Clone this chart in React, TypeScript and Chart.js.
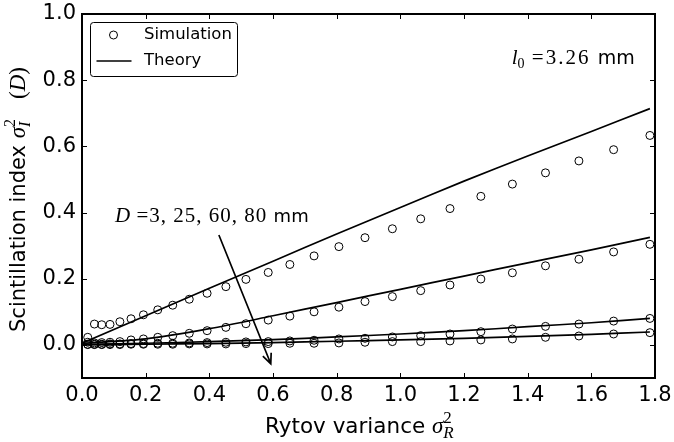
import React, { useEffect, useRef } from 'react';
import { Chart, registerables } from 'chart.js';
Chart.register(...registerables);

// Rytov variance (x) of the simulation points
const rytov = [0.018, 0.039, 0.062, 0.088, 0.119, 0.154, 0.193, 0.238, 0.285, 0.337, 0.393, 0.452, 0.515, 0.585, 0.653, 0.729, 0.807, 0.889, 0.975, 1.064, 1.156, 1.253, 1.352, 1.456, 1.561, 1.670, 1.784];
// Simulation, D = 3, 25, 60, 80 mm
const simD3 = [0.023, 0.063, 0.061, 0.062, 0.070, 0.079, 0.091, 0.106, 0.120, 0.138, 0.156, 0.176, 0.198, 0.219, 0.243, 0.269, 0.297, 0.324, 0.351, 0.381, 0.412, 0.449, 0.486, 0.520, 0.556, 0.590, 0.633];
const simD25 = [0.008, 0.006, 0.007, 0.008, 0.010, 0.015, 0.018, 0.023, 0.028, 0.035, 0.043, 0.053, 0.064, 0.075, 0.087, 0.100, 0.114, 0.131, 0.146, 0.164, 0.181, 0.199, 0.218, 0.239, 0.259, 0.281, 0.304];
const simD60 = [0.002, 0.002, 0.002, 0.003, 0.003, 0.004, 0.004, 0.005, 0.005, 0.006, 0.007, 0.008, 0.009, 0.010, 0.012, 0.014, 0.018, 0.020, 0.024, 0.028, 0.033, 0.040, 0.048, 0.056, 0.063, 0.072, 0.080];
const simD80 = [0.001, 0.001, 0.001, 0.001, 0.001, 0.002, 0.002, 0.002, 0.002, 0.003, 0.003, 0.003, 0.004, 0.004, 0.005, 0.005, 0.006, 0.008, 0.010, 0.010, 0.012, 0.015, 0.018, 0.023, 0.027, 0.033, 0.037];
// Theory curves
const theoryX = [0, 0.2, 0.4, 0.6, 0.8, 1.0, 1.2, 1.4, 1.6, 1.784];
const theoryD3 = [0.005, 0.088, 0.171, 0.253, 0.335, 0.415, 0.495, 0.571, 0.645, 0.714];
const theoryD25 = [0.005, 0.018, 0.049, 0.088, 0.128, 0.168, 0.208, 0.248, 0.287, 0.325];
const theoryD60 = [0.002, 0.005, 0.010, 0.016, 0.024, 0.033, 0.043, 0.055, 0.067, 0.080];
const theoryD80 = [0.0, 0.002, 0.004, 0.007, 0.011, 0.015, 0.020, 0.026, 0.032, 0.039];

const xTicks = [0, 0.2, 0.4, 0.6, 0.8, 1.0, 1.2, 1.4, 1.6, 1.8];
const yTicks = [0, 0.2, 0.4, 0.6, 0.8, 1.0];

// annotation anchors (data coordinates)
const arrowFrom = { x: 0.43, y: 0.332 };
const arrowTo = { x: 0.593, y: -0.057 };
const dLabelPos = { x: 0.104, y: 0.372 };
const l0LabelPos = { x: 1.35, y: 0.85 };

const SANS = '"DejaVu Sans", sans-serif';
const SERIF = '"Liberation Serif", serif';

type Run = { t: string; f: string; dy?: number; overlay?: boolean; ls?: number; w?: number };

function layoutRuns(ctx: CanvasRenderingContext2D, runs: Run[]) {
  let x = 0;
  let prevStart = 0;
  let prevW = 0;
  const items: (Run & { x: number })[] = [];
  for (const r of runs) {
    ctx.font = r.f;
    (ctx as any).letterSpacing = `${r.ls || 0}px`;
    const w = r.w !== undefined ? r.w : ctx.measureText(r.t).width;
    if (r.overlay) {
      items.push({ ...r, x: prevStart });
      prevW = Math.max(prevW, w);
      x = prevStart + prevW;
    } else {
      items.push({ ...r, x });
      prevStart = x;
      prevW = w;
      x += w;
    }
  }
  (ctx as any).letterSpacing = '0px';
  return { items, width: x };
}

function drawRuns(ctx: CanvasRenderingContext2D, runs: Run[], x: number, y: number, align: 'left' | 'center', rotate = false) {
  const { items, width } = layoutRuns(ctx, runs);
  ctx.save();
  ctx.translate(x, y);
  if (rotate) ctx.rotate(-Math.PI / 2);
  const off = align === 'center' ? -width / 2 : 0;
  ctx.fillStyle = '#000';
  ctx.textBaseline = 'alphabetic';
  ctx.textAlign = 'left';
  for (const it of items) {
    ctx.font = it.f;
    (ctx as any).letterSpacing = `${it.ls || 0}px`;
    ctx.fillText(it.t, off + it.x, it.dy || 0);
  }
  (ctx as any).letterSpacing = '0px';
  ctx.restore();
}

const decorPlugin = {
  id: 'decor',
  beforeDraw(chart: any) {
    const ctx = chart.ctx;
    ctx.save();
    ctx.fillStyle = '#fff';
    ctx.fillRect(0, 0, chart.width, chart.height);
    ctx.restore();
  },
  beforeDatasetsDraw(chart: any) {
    const { ctx, chartArea: a, scales } = chart;
    ctx.save();
    ctx.strokeStyle = '#000';
    ctx.lineWidth = 1;
    const tl = 5;
    ctx.beginPath();
    for (const v of xTicks) {
      const px = Math.round(scales.x.getPixelForValue(v)) + 0.5;
      ctx.moveTo(px, a.bottom);
      ctx.lineTo(px, a.bottom - tl);
      ctx.moveTo(px, a.top);
      ctx.lineTo(px, a.top + tl);
    }
    for (const v of yTicks) {
      const py = Math.round(scales.y.getPixelForValue(v)) + 0.5;
      ctx.moveTo(a.left, py);
      ctx.lineTo(a.left + tl, py);
      ctx.moveTo(a.right, py);
      ctx.lineTo(a.right - tl, py);
    }
    ctx.stroke();
    ctx.lineWidth = 2;
    ctx.strokeRect(a.left, a.top, a.right - a.left, a.bottom - a.top);
    ctx.restore();
  },
  afterDraw(chart: any) {
    const { ctx, chartArea: a, scales } = chart;
    ctx.save();
    // Legend
    const lx = a.left + 8.5;
    const ly = a.top + 8.5;
    ctx.fillStyle = '#fff';
    ctx.strokeStyle = '#000';
    ctx.lineWidth = 1;
    ctx.beginPath();
    ctx.roundRect(lx, ly, 147, 54, 3);
    ctx.fill();
    ctx.stroke();
    ctx.beginPath();
    ctx.arc(lx + 23, ly + 12.5, 4, 0, Math.PI * 2);
    ctx.stroke();
    ctx.lineWidth = 1.7;
    ctx.beginPath();
    ctx.moveTo(lx + 6, ly + 38.5);
    ctx.lineTo(lx + 41, ly + 38.5);
    ctx.stroke();
    ctx.fillStyle = '#000';
    ctx.font = `16.5px ${SANS}`;
    ctx.textBaseline = 'middle';
    ctx.textAlign = 'left';
    ctx.fillText('Simulation', lx + 53.5, ly + 12.5);
    ctx.fillText('Theory', lx + 53.5, ly + 38.5);

    // Arrow
    const x1 = scales.x.getPixelForValue(arrowFrom.x);
    const y1 = scales.y.getPixelForValue(arrowFrom.y);
    const x2 = scales.x.getPixelForValue(arrowTo.x);
    const y2 = scales.y.getPixelForValue(arrowTo.y);
    ctx.lineWidth = 1.7;
    ctx.beginPath();
    ctx.moveTo(x1, y1);
    ctx.lineTo(x2, y2);
    const ang = Math.atan2(y2 - y1, x2 - x1);
    const hl = 11;
    const ha = 0.42;
    ctx.moveTo(x2 - hl * Math.cos(ang - ha), y2 - hl * Math.sin(ang - ha));
    ctx.lineTo(x2, y2);
    ctx.lineTo(x2 - hl * Math.cos(ang + ha), y2 - hl * Math.sin(ang + ha));
    ctx.stroke();

    // D label
    drawRuns(ctx, [
      { t: 'D', f: `italic 21px ${SERIF}` },
      { t: ' =3, 25, 60, 80 ', f: `21px ${SERIF}`, ls: 1.0 },
      { t: 'mm', f: `18px ${SANS}` },
    ], scales.x.getPixelForValue(dLabelPos.x), scales.y.getPixelForValue(dLabelPos.y), 'left');

    // l0 label
    drawRuns(ctx, [
      { t: 'l', f: `italic 21px ${SERIF}` },
      { t: '0', f: `14px ${SERIF}`, dy: 4 },
      { t: ' =3.26 ', f: `21px ${SERIF}`, ls: 2 },
      { t: 'mm', f: `19px ${SANS}` },
    ], scales.x.getPixelForValue(l0LabelPos.x), scales.y.getPixelForValue(l0LabelPos.y), 'left');

    // X axis title
    drawRuns(ctx, [
      { t: 'Rytov variance ', f: `21.5px ${SANS}` },
      { t: 'σ', f: `italic 23px ${SERIF}` },
      { t: '2', f: `17px ${SERIF}`, dy: -10 },
      { t: 'R', f: `italic 17px ${SERIF}`, dy: 5, overlay: true },
    ], 265, 433, 'left');

    // Y axis title
    drawRuns(ctx, [
      { t: 'Scintillation index ', f: `21px ${SANS}` },
      { t: 'σ', f: `italic 23px ${SERIF}` },
      { t: '2', f: `16px ${SERIF}`, dy: -10 },
      { t: 'I', f: `italic 16px ${SERIF}`, dy: 5, overlay: true },
      { t: '', f: `16px ${SERIF}`, w: 20 },
      { t: '(', f: `23px ${SERIF}` },
      { t: 'D', f: `italic 23px ${SERIF}` },
      { t: ')', f: `23px ${SERIF}` },
    ], 25, 332, 'left', true);
    ctx.restore();
  },
};

function toPts(xs: number[], ys: number[]) {
  return xs.map((x, i) => ({ x, y: ys[i] }));
}

export default function App() {
  const ref = useRef<HTMLCanvasElement>(null);
  useEffect(() => {
    const simStyle = {
      type: 'scatter' as const,
      showLine: false,
      pointRadius: 4,
      pointHoverRadius: 4,
      pointBorderWidth: 1,
      pointBorderColor: '#000',
      pointBackgroundColor: 'rgba(0,0,0,0)',
      clip: false as any,
    };
    const lineStyle = {
      type: 'scatter' as const,
      showLine: true,
      pointRadius: 0,
      borderColor: '#000',
      borderWidth: 1.7,
      tension: 0.3,
      fill: false,
    };
    const chart = new Chart(ref.current!, {
      type: 'scatter',
      data: {
        datasets: [
          { ...lineStyle, label: 'Theory D=3', data: toPts(theoryX, theoryD3) },
          { ...lineStyle, label: 'Theory D=25', data: toPts(theoryX, theoryD25) },
          { ...lineStyle, label: 'Theory D=60', data: toPts(theoryX, theoryD60) },
          { ...lineStyle, label: 'Theory D=80', data: toPts(theoryX, theoryD80) },
          { ...simStyle, label: 'Simulation D=3', data: toPts(rytov, simD3) },
          { ...simStyle, label: 'Simulation D=25', data: toPts(rytov, simD25) },
          { ...simStyle, label: 'Simulation D=60', data: toPts(rytov, simD60) },
          { ...simStyle, label: 'Simulation D=80', data: toPts(rytov, simD80) },
        ] as any,
      },
      options: {
        responsive: false,
        animation: false,
        events: [],
        layout: { padding: { left: 0, top: 14, right: 19, bottom: 0 } },
        plugins: { legend: { display: false }, tooltip: { enabled: false }, title: { display: false } },
        scales: {
          x: {
            type: 'linear',
            min: 0,
            max: 1.8,
            afterBuildTicks: (s: any) => { s.ticks = xTicks.map((v) => ({ value: v })); },
            afterFit: (s: any) => { s.height = 64; s.paddingLeft = 0; s.paddingRight = 0; },
            grid: { display: false, drawTicks: false },
            border: { display: false },
            ticks: {
              color: '#000',
              font: { family: 'DejaVu Sans', size: 21 },
              padding: 5,
              maxRotation: 0,
              autoSkip: false,
              callback: (v: any) => Number(v).toFixed(1),
            },
          },
          y: {
            type: 'linear',
            min: -0.1,
            max: 1.0,
            afterBuildTicks: (s: any) => { s.ticks = yTicks.map((v) => ({ value: v })); },
            afterFit: (s: any) => { s.width = 82; s.paddingTop = 0; s.paddingBottom = 0; },
            grid: { display: false, drawTicks: false },
            border: { display: false },
            ticks: {
              color: '#000',
              font: { family: 'DejaVu Sans', size: 21 },
              padding: 6,
              autoSkip: false,
              callback: (v: any) => Number(v).toFixed(1),
            },
          },
        },
      },
      plugins: [decorPlugin],
    });
    return () => chart.destroy();
  }, []);
  return (
    <div style={{ position: 'fixed', left: 0, top: 0, width: 674, height: 442, background: '#fff' }}>
      <canvas ref={ref} width={674} height={442} style={{ display: 'block', width: 674, height: 442 }} />
    </div>
  );
}
